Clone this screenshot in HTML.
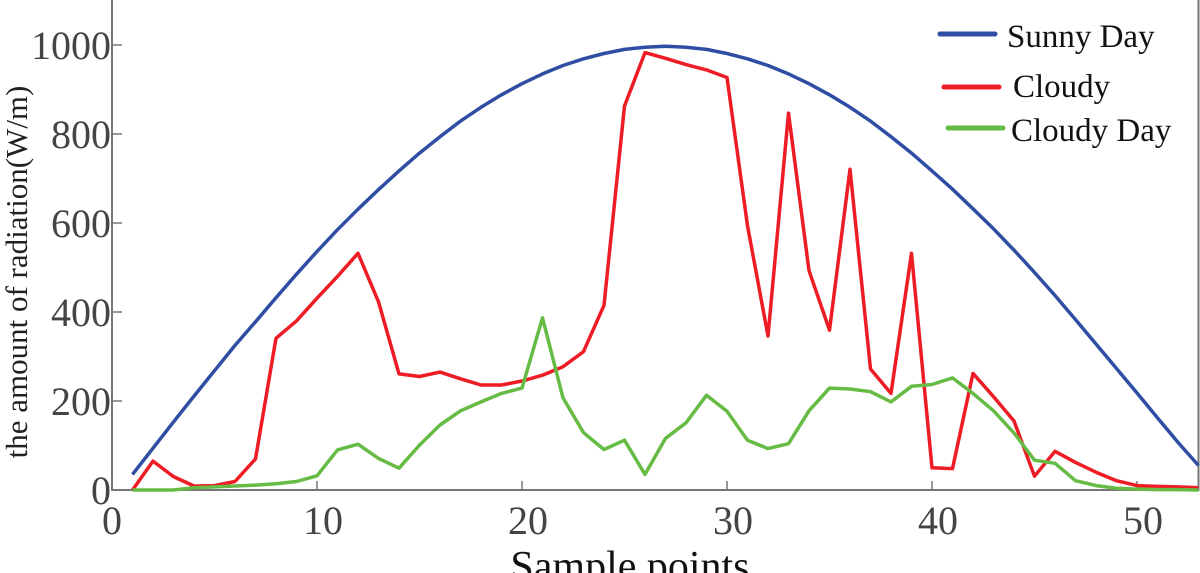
<!DOCTYPE html>
<html><head><meta charset="utf-8"><style>
body{margin:0;background:#fff}
svg{display:block;font-family:"Liberation Serif",serif}
</style></head><body>
<svg id="chart" width="1200" height="573" viewBox="0 0 1200 573" xmlns="http://www.w3.org/2000/svg">
<g id="axes"></g>
<g id="series"></g>
<text transform="translate(27,272) rotate(-90)" text-anchor="middle" font-size="31" fill="#222">the amount of radiation(W/m)</text>
<text x="630" y="580" text-anchor="middle" font-size="42" fill="#111">Sample points</text>
<g>
<line x1="940" y1="34" x2="995" y2="34" stroke="#2f4ea3" stroke-width="5" stroke-linecap="round"/>
<text x="1007" y="47" font-size="33" fill="#111">Sunny Day</text>
<line x1="944" y1="87" x2="999" y2="87" stroke="#ee1c24" stroke-width="5" stroke-linecap="round"/>
<text x="1013" y="97" font-size="33" fill="#111">Cloudy</text>
<line x1="948" y1="128" x2="1003" y2="128" stroke="#66bb44" stroke-width="5" stroke-linecap="round"/>
<text x="1011" y="141" font-size="33" fill="#111">Cloudy Day</text>
</g>
</svg>
<script>
const xTicks=[0,10,20,30,40,50];
const yTicks=[0,200,400,600,800,1000];
const sunny=[35,94,153,211,268,325,378,432,485,536,585,631,675,717,757,794,829,860,888,913,935,954,969,981,990,995,997,995,990,981,969,954,935,913,888,860,829,794,757,717,676,632,587,539,489,437,383,328,273,218,162,107,55];
const cloudy=[0,65,30,9,10,19,70,341,380,431,480,532,423,261,255,265,250,236,236,245,258,277,311,415,863,983,970,956,944,927,594,346,847,493,359,721,272,217,532,50,48,262,210,155,31,87,62,40,21,10,8,7,5];
const cloudyDay=[0,0,0,5,7,9,11,14,19,32,90,103,71,49,101,146,178,198,217,229,387,207,129,91,112,35,116,151,213,177,112,93,104,178,229,227,221,198,233,237,252,217,178,128,67,60,21,10,4,2,1,1,0];
const X=v=>112+v*20.5, Y=v=>490-v*0.445;
const NS="http://www.w3.org/2000/svg";
const ax=document.getElementById('axes'), se=document.getElementById('series');
function mk(tag,attrs,parent){const e=document.createElementNS(NS,tag);for(const k in attrs)e.setAttribute(k,attrs[k]);parent.appendChild(e);return e;}
let e=mk('path',{d:`M${X(0)},0 V${Y(0)} H${X(53)} V0`,fill:'none',stroke:'#777','stroke-width':2},ax);


xTicks.forEach(t=>{
  let l=mk('line',{x1:X(t),x2:X(t),y1:Y(0),y2:Y(0)-9,stroke:'#777','stroke-width':1.5},ax);
  
  
  let tx=mk('text',{x:X(t)+(t===0?0:6),y:534,'text-anchor':'middle','font-size':40,fill:'#444'},ax);
  tx.textContent=t;
  
  
});
yTicks.forEach(t=>{
  let l=mk('line',{x1:X(0),x2:X(0)+10,y1:Y(t),y2:Y(t),stroke:'#777','stroke-width':1.5},ax);
  
  
  let tx=mk('text',{x:111,y:Y(t)+14,'text-anchor':'end','font-size':40,fill:'#444'},ax);
  tx.textContent=t;
  
  
});
function line(data,color,name){
  const d=data.map((v,i)=>(i?'L':'M')+X(i+1).toFixed(1)+','+Y(v).toFixed(1)).join(' ');
  let p=mk('path',{d:d,fill:'none',stroke:color,'stroke-width':3.5,'stroke-linejoin':'round'},se);
  
  
}
line(sunny,'#2f4ea3','sunny-day-line');
line(cloudy,'#ee1c24','cloudy-line');
line(cloudyDay,'#66bb44','cloudy-day-line');
</script>
</body></html>
